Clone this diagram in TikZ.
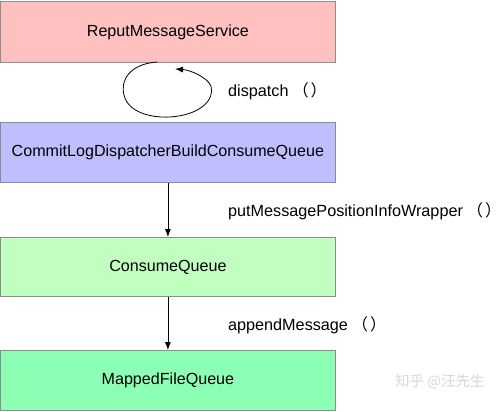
\documentclass[tikz,border=0pt]{standalone}
\usepackage{fontspec}
\setmainfont{Liberation Sans}
\newfontfamily\cjk{Noto Sans CJK SC}
\usetikzlibrary{arrows.meta}
\definecolor{boxline}{HTML}{8C8C8C}
\definecolor{pinkfill}{HTML}{FFC0C0}
\definecolor{bluefill}{HTML}{BFBFFF}
\definecolor{lgreenfill}{HTML}{C0FFC0}
\definecolor{greenfill}{HTML}{8CFFB4}
\definecolor{wmgray}{HTML}{D8D8D8}
\newcommand{\myparens}{\hspace{4bp}{\cjk （\hspace{2bp}）}}
\begin{document}
\begin{tikzpicture}[x=1bp,y=-1bp,
  boxstyle/.style={draw=boxline,line width=0.8bp,minimum width=334bp,minimum height=60bp,inner sep=0pt,font=\fontsize{16.1bp}{19bp}\selectfont,anchor=north west},
  lbl/.style={anchor=west,inner sep=0pt,font=\fontsize{16.2bp}{19bp}\selectfont},
  arr/.style={-{Latex[length=8bp,width=6bp]},line width=0.8bp}]
\useasboundingbox (0,0) rectangle (500,411);
\fill[white] (0,0) rectangle (500,411);
\node[boxstyle,fill=pinkfill,minimum height=61bp] (b1) at (0.5,1) {ReputMessageService};
\node[boxstyle,fill=bluefill] (b2) at (0.5,122) {CommitLogDispatcherBuildConsumeQueue};
\node[boxstyle,fill=lgreenfill,minimum height=59bp] (b3) at (0.5,237) {ConsumeQueue};
\node[boxstyle,fill=greenfill] (b4) at (0.5,350) {MappedFileQueue};
\coordinate (ls) at (157,62);
\coordinate (le) at (175,69);
\draw[arr] (ls) .. controls (130,64) and (120,80) .. (124,95) .. controls (128,112) and (150,118) .. (170,117) .. controls (200,115) and (215,100) .. (211,86) .. controls (207,77) and (190,70) .. (le);
\draw[arr] (b2) -- (b3);
\draw[arr] (b3) -- (b4);
\node[lbl] (l1) at (228,91) {dispatch\myparens};
\node[lbl] (l2) at (228,211) {putMessagePositionInfoWrapper\myparens};
\node[lbl] (l3) at (228,325) {appendMessage\myparens};
\node[anchor=west,inner sep=0pt,text=wmgray,font=\cjk\fontsize{14.5bp}{16bp}\selectfont] (wm) at (395,382) {知乎 @汪先生};
\end{tikzpicture}
\end{document}
